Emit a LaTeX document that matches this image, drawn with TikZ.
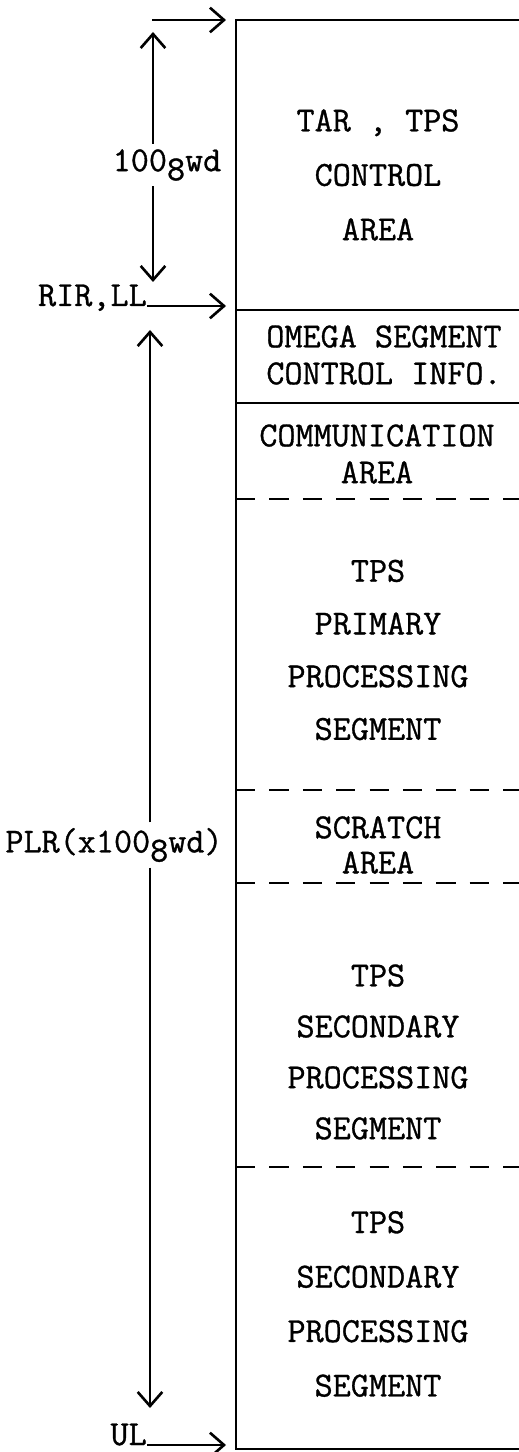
\documentclass[tikz,border=0pt]{standalone}
\usepackage{fontspec}
\newfontfamily\typewr{Latin Modern Mono}[FakeBold=0.9]
\usetikzlibrary{arrows.meta}

\newcommand{\octwd}{100\raisebox{-0.6ex}{8}wd}

\begin{document}
\begin{tikzpicture}[x=0.02cm,y=-0.02cm,
  seglbl/.style={font=\typewr\fontsize{20}{24}\selectfont,align=center},
  sidelbl/.style={font=\typewr\fontsize{20}{24}\selectfont,inner sep=3pt},
  ptr/.style={-{Straight Barb[length=8pt,width=14pt]},line width=1.5pt},
  wall/.style={line width=1.6pt},
  part/.style={line width=1.4pt,dash pattern=on 11pt off 8pt}]
  \useasboundingbox (0,0) rectangle (519,1452);

  % Memory block
  \draw[wall] (519,20) -- (236,20) -- (236,1449) -- (519,1449);
  \draw[wall] (236,310) -- (519,310);
  \draw[wall] (236,403) -- (519,403);
  \draw[part] (236,499) -- (519,499);
  \draw[part] (236,790) -- (519,790);
  \draw[part] (236,883) -- (519,883);
  \draw[part] (236,1167) -- (519,1167);

  % Segment names
  \node[seglbl] (tarseg) at (378,175) {TAR , TPS\\[7pt]CONTROL\\[7pt]AREA};
  \node[seglbl] (omegaseg) at (384,355) {OMEGA SEGMENT\\[-3pt]CONTROL INFO.};
  \node[seglbl] (commseg) at (377,454) {COMMUNICATION\\[-3pt]AREA};
  \node[seglbl] (primseg) at (378,650) {TPS\\[6pt]PRIMARY\\[6pt]PROCESSING\\[6pt]SEGMENT};
  \node[seglbl] (scratchseg) at (378,845) {SCRATCH\\[-4pt]AREA};
  \node[seglbl] (secseg) at (378,1052) {TPS\\[5pt]SECONDARY\\[5pt]PROCESSING\\[5pt]SEGMENT};
  \node[seglbl] (secsegb) at (378,1304) {TPS\\[7pt]SECONDARY\\[7pt]PROCESSING\\[7pt]SEGMENT};

  % Address pointers
  \coordinate (topstart) at (152,20);
  \coordinate (topend) at (226,20);
  \draw[ptr] (topstart) -- (topend);
  \node[sidelbl,anchor=base east,inner sep=0pt] (rirlbl) at (147,306) {RIR,LL};
  \coordinate (rirend) at (226,306);
  \draw[ptr] (rirlbl.base east) -- (rirend);
  \node[sidelbl,anchor=base east,inner sep=0pt] (ullbl) at (147,1445) {UL};
  \coordinate (ulend) at (226,1445);
  \draw[ptr] (ullbl.base east) -- (ulend);

  % Lengths
  \node[sidelbl] (wdlbl) at (167,165) {\octwd};
  \coordinate (wdtop) at (153,32);
  \coordinate (wdbot) at (153,282);
  \draw[ptr] (wdlbl.north -| wdtop) -- (wdtop);
  \draw[ptr] (wdlbl.south -| wdbot) -- (wdbot);

  \node[sidelbl] (plrlbl) at (114,845) {PLR(x\octwd)};
  \coordinate (plrtop) at (150,330);
  \coordinate (plrbot) at (150,1408);
  \draw[ptr] (plrlbl.north -| plrtop) -- (plrtop);
  \draw[ptr] (plrlbl.south -| plrbot) -- (plrbot);
\end{tikzpicture}
\end{document}
